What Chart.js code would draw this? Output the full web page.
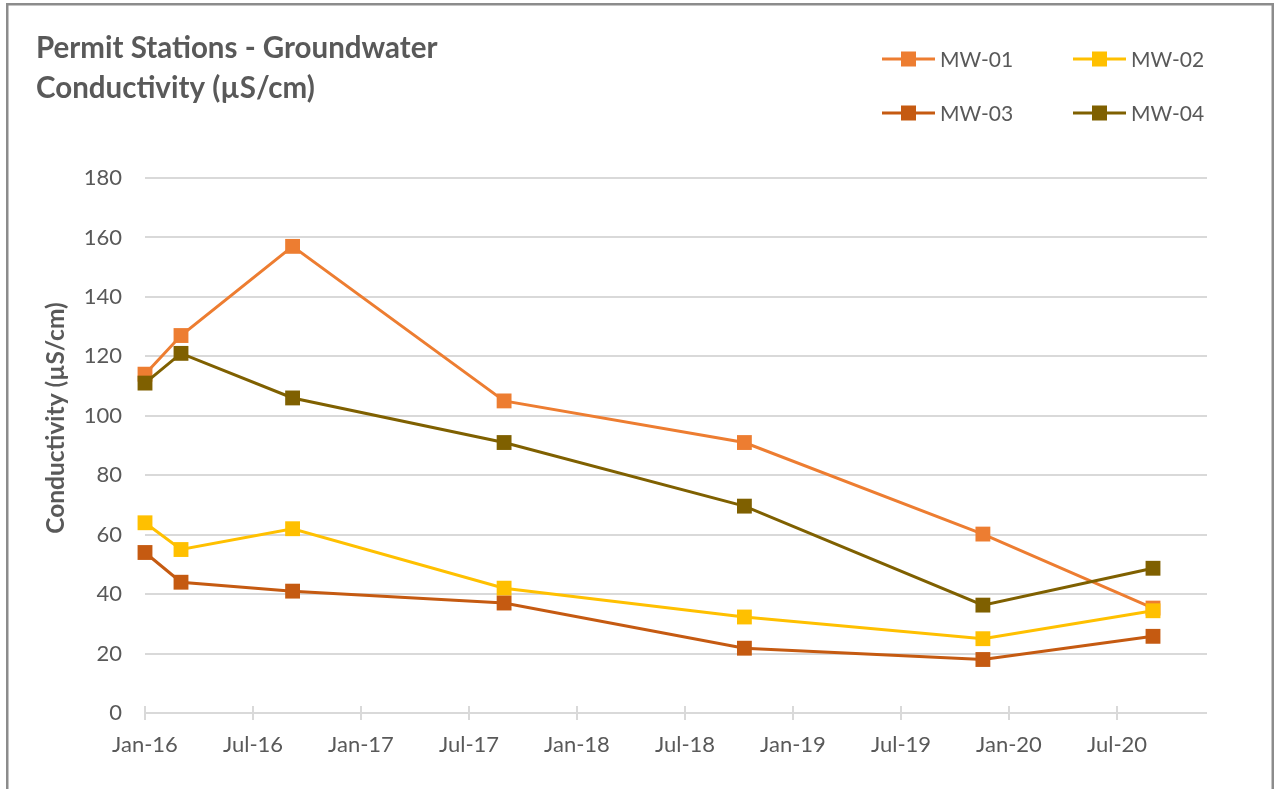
<!DOCTYPE html>
<html>
<head>
<meta charset="utf-8">
<script src="https://cdn.jsdelivr.net/npm/chart.js@4.4.0/dist/chart.umd.min.js"></script>
<style>
  html, body { margin: 0; padding: 0; background: #ffffff; }
  #wrap { position: relative; width: 1275px; height: 789px; }
</style>
</head>
<body>
<div id="wrap"><canvas id="c" width="1275" height="789"></canvas></div>
<script>
// ---- Data (x = months since Jan 2016) ----
const sampleMonths = [0, 2, 8.2, 19.95, 33.3, 46.55, 56.0];
const seriesNames = ['MW-01', 'MW-02', 'MW-03', 'MW-04'];
const mw01 = [114, 127, 157, 105, 91, 60.2, 35.3];
const mw02 = [64, 55, 62, 42, 32.3, 25.0, 34.4];
const mw03 = [54, 44, 41, 37, 21.8, 18.0, 25.8];
const mw04 = [111, 121, 106, 91, 69.6, 36.3, 48.7];
const xTickValues = [0, 6, 12, 18, 24, 30, 36, 42, 48, 54];
const xTickLabels = ['Jan-16', 'Jul-16', 'Jan-17', 'Jul-17', 'Jan-18', 'Jul-18', 'Jan-19', 'Jul-19', 'Jan-20', 'Jul-20'];
const yTicks = [0, 20, 40, 60, 80, 100, 120, 140, 160, 180];
const titleLines = ['Permit Stations - Groundwater', 'Conductivity (\u00B5S/cm)'];
const yAxisTitle = 'Conductivity (\u00B5S/cm)';
const colors = ['#ED7D31', '#FFC000', '#C55A11', '#7F6000'];

const FONT = 'Lato, "Open Sans", sans-serif';
const TEXT = '#595959';

function mk(values) { return sampleMonths.map((m, i) => ({ x: m, y: values[i] })); }
const allValues = [mw01, mw02, mw03, mw04];

const datasets = allValues.map((v, i) => ({
  label: seriesNames[i],
  data: mk(v),
  borderColor: colors[i],
  backgroundColor: colors[i],
  borderWidth: 3,
  pointStyle: 'rect',
  pointRadius: 10.5,
  pointHoverRadius: 10.5,
  pointBorderWidth: 0,
  pointBackgroundColor: colors[i],
  tension: 0,
  clip: false,
  order: 4 - i
}));

const decor = {
  id: 'decor',
  afterDraw(chart) {
    const ctx = chart.ctx;
    const xs = chart.scales.x;
    const ys = chart.scales.y;
    ctx.save();
    // outer frame
    ctx.strokeStyle = '#8c8c8c';
    ctx.lineWidth = 2.5;
    ctx.strokeRect(7.25, 4.25, 1265.5, 820);
    // title
    ctx.fillStyle = TEXT;
    ctx.font = 'bold 29.5px ' + FONT;
    ctx.textAlign = 'left';
    ctx.textBaseline = 'alphabetic';
    ctx.fillText(titleLines[0], 36, 58);
    ctx.fillText(titleLines[1], 36, 98);
    // y axis title
    ctx.save();
    ctx.translate(56, 418);
    ctx.rotate(-Math.PI / 2);
    ctx.textAlign = 'center';
    ctx.textBaseline = 'middle';
    ctx.font = 'bold 24.5px ' + FONT;
    ctx.fillText(yAxisTitle, 0, 0);
    ctx.restore();
    // x tick marks crossing the axis line
    ctx.strokeStyle = '#d9d9d9';
    ctx.lineWidth = 2;
    const yb = ys.getPixelForValue(0);
    xTickValues.forEach(v => {
      const px = Math.round(xs.getPixelForValue(v));
      ctx.beginPath();
      ctx.moveTo(px, yb - 7);
      ctx.lineTo(px, yb + 7);
      ctx.stroke();
    });
    // legend (2 x 2)
    const legendPos = [
      { lx: 882, y: 59 }, { lx: 1073, y: 59 },
      { lx: 882, y: 113 }, { lx: 1073, y: 113 }
    ];
    ctx.font = '21px ' + FONT;
    ctx.textBaseline = 'middle';
    ctx.textAlign = 'left';
    chart.data.datasets.forEach((ds, i) => {
      const p = legendPos[i];
      ctx.strokeStyle = ds.borderColor;
      ctx.lineWidth = 3;
      ctx.beginPath();
      ctx.moveTo(p.lx, p.y);
      ctx.lineTo(p.lx + 53, p.y);
      ctx.stroke();
      ctx.fillStyle = ds.borderColor;
      ctx.fillRect(p.lx + 26.5 - 7.5, p.y - 7.5, 15, 15);
      ctx.fillStyle = TEXT;
      ctx.fillText(ds.label, p.lx + 58, p.y + 1);
    });
    ctx.restore();
  }
};

new Chart(document.getElementById('c'), {
  type: 'line',
  data: { datasets },
  options: {
    responsive: false,
    animation: false,
    devicePixelRatio: 1,
    layout: { padding: { top: 178, right: 68, bottom: 0, left: 0 } },
    plugins: {
      legend: { display: false },
      title: { display: false },
      tooltip: { enabled: false }
    },
    scales: {
      x: {
        type: 'linear',
        min: 0,
        max: 59,
        afterFit(s) { s.height = 76; },
        afterBuildTicks(s) { s.ticks = xTickValues.map(v => ({ value: v })); },
        grid: { display: false, drawTicks: false },
        border: { display: false },
        ticks: {
          autoSkip: false,
          maxRotation: 0,
          padding: 19,
          color: TEXT,
          font: { family: FONT, size: 22 },
          callback(v) { const i = xTickValues.indexOf(v); return i >= 0 ? xTickLabels[i] : ''; }
        }
      },
      y: {
        type: 'linear',
        min: 0,
        max: 180,
        afterFit(s) { s.width = 145; },
        afterBuildTicks(s) { s.ticks = yTicks.map(v => ({ value: v })); },
        grid: { color: '#d9d9d9', lineWidth: 2, drawTicks: false },
        border: { display: false },
        ticks: {
          padding: 23,
          color: TEXT,
          font: { family: FONT, size: 22 }
        }
      }
    }
  },
  plugins: [decor]
});
</script>
</body>
</html>
